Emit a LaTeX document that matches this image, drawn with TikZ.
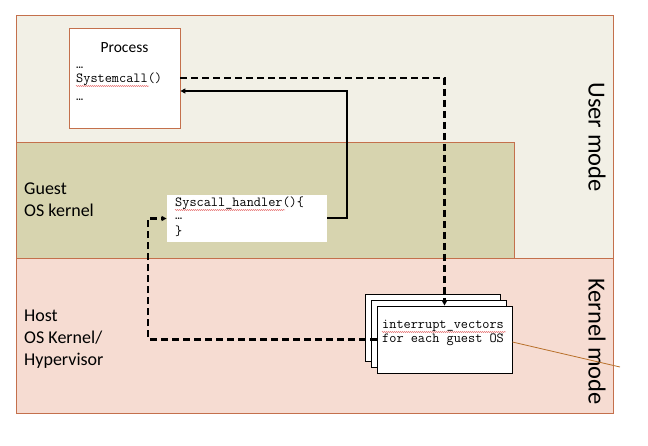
\documentclass[tikz,border=0pt]{standalone}
\usepackage{fontspec}
\setmainfont{Carlito}
\usetikzlibrary{arrows.meta,decorations.pathmorphing,calc}
\definecolor{userbg}{HTML}{F2F0E6}
\definecolor{guestbg}{HTML}{D7D4AF}
\definecolor{kernbg}{HTML}{F6DCD2}
\definecolor{framec}{HTML}{C4704C}
\definecolor{squig}{HTML}{E04848}
\definecolor{linkline}{HTML}{B8702A}
\begin{document}
\begin{tikzpicture}[x=1pt,y=-1pt,
  region/.style={draw=framec,line width=0.9pt},
  codebox/.style={fill=white,line width=0.8pt,inner sep=0pt},
  code/.style={font=\ttfamily\fontsize{13.9}{16}\selectfont,anchor=base west,inner sep=0pt},
  sidelabel/.style={font=\fontsize{18}{21}\selectfont,anchor=base west,inner sep=0pt},
  modelabel/.style={font=\fontsize{24.5}{28}\selectfont,rotate=-90,inner sep=0pt},
  dasharrow/.style={line width=2.2pt,dash pattern=on 7pt off 4pt,-{Triangle[length=5pt,width=5pt]}},
  solidarrow/.style={line width=2pt,-{Triangle[length=5pt,width=5pt]}},
  spell/.style={draw=squig,line width=0.4pt,decorate,decoration={snake,amplitude=0.5pt,segment length=2pt}}
]
\useasboundingbox (0,0) rectangle (648,446);
% regions
\fill[userbg] (16,15) rectangle (613,413);
\draw[region,fill=kernbg] (16,258) rectangle (613,413);
\draw[region,fill=guestbg] (16,142) rectangle (514,258);
\draw[region] (16,15) rectangle (613,413);
% mode labels
\node[modelabel] (um) at (597,137) {User mode};
\node[modelabel] (km) at (597,341.5) {Kernel mode};
% side labels
\node[sidelabel] (g1) at (24,195) {Guest};
\node[sidelabel] (g2) at (24,216.5) {OS kernel};
\node[sidelabel] (h1) at (24,322) {Host};
\node[sidelabel] (h2) at (24,344) {OS Kernel/};
\node[sidelabel] (h3) at (24,366) {Hypervisor};
% process box
\node[codebox,draw=framec,minimum width=111pt,minimum height=100pt] (proc) at (124.5,78) {};
\node[font=\fontsize{15.5}{18}\selectfont,anchor=base,inner sep=0pt] (ptitle) at (124.5,53) {Process};
\node[code] (p1) at (76,69) {…};
\node[code] (p2) at (76,83) {Systemcall()};
\node[code] (p3) at (76,101) {…};
\path[spell] (76,86) -- (149,86);
% syscall handler box
\node[codebox,minimum width=160pt,minimum height=47pt] (sys) at (247,218.5) {};
\node[code] (s1) at (175,206.5) {Syscall\_handler()\{};
\node[code] (s2) at (175,220) {…};
\node[code] (s3) at (175,236) {\}};
\path[spell] (175,210) -- (285,210);
% interrupt vectors stack
\node[codebox,draw=black,minimum width=135pt,minimum height=67pt] (ivb) at (432.5,327.5) {};
\node[codebox,draw=black,minimum width=135pt,minimum height=67pt] (ivm) at (438.5,333.5) {};
\node[codebox,draw=black,minimum width=135pt,minimum height=67pt] (iv) at (444.5,339.5) {};
\node[code] (i1) at (382,329) {interrupt\_vectors};
\node[code] (i2) at (382,343) {for each guest OS};
\path[spell] (382,332) -- (506,332);
% connectors
\coordinate (c1) at (347,91);
\coordinate (c2) at (148,218.5);
\coordinate (lend) at (620,367);
\draw[dasharrow] (proc.east) -| (iv.north);
\draw[solidarrow] (sys.east) -| (c1) -- (c1 -| proc.east);
\draw[dasharrow] (iv.west) -| (c2) -- (sys.west);
\draw[linkline,line width=0.8pt] ($(iv.east)+(0,2.5)$) -- (lend);
\end{tikzpicture}
\end{document}
